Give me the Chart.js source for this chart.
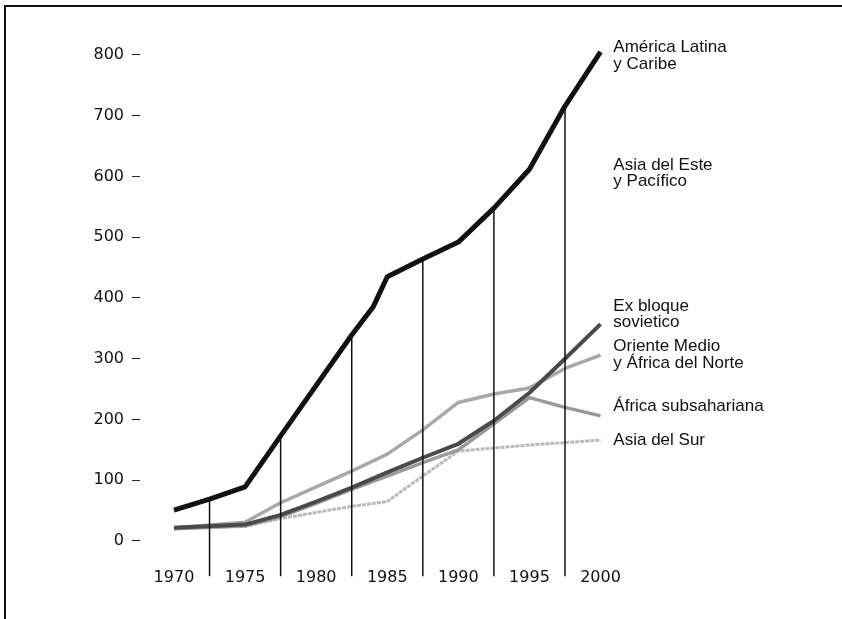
<!DOCTYPE html>
<html><head><meta charset="utf-8">
<script src="https://cdn.jsdelivr.net/npm/chart.js@4.4.1/dist/chart.umd.min.js"></script>
<style>
html,body{margin:0;padding:0;background:#fff;}
#wrap{position:relative;width:842px;height:619px;overflow:hidden;background:#fff;}
#frame{position:absolute;left:4px;top:5px;width:900px;height:700px;border-top:2px solid #111;border-left:2px solid #111;pointer-events:none;}
canvas{position:absolute;left:0;top:0;}
</style></head><body>
<div id="wrap"><canvas id="c" width="842" height="619"></canvas><div id="frame"></div></div>
<script>
// ---- data ----
const yearTicks = [1970, 1975, 1980, 1985, 1990, 1995, 2000];
const valueTicks = [0, 100, 200, 300, 400, 500, 600, 700, 800];

const alYears  = [1970, 1972.5, 1975, 1977.5, 1982.5, 1984, 1985, 1987.5, 1990, 1992.5, 1995, 1997.5, 2000];
const alValues = [51, 69, 89, 173, 339, 385, 435, 464, 492, 548, 612, 716, 805];

const years = [1970, 1975, 1977.5, 1980, 1982.5, 1985, 1987.5, 1990, 1992.5, 1995, 1997.5, 2000];
const exBloque   = [22, 27, 43, 65, 88, 113, 137, 160, 198, 244, 300, 357];
const orienteMed = [22, 31, 63, 89, 115, 143, 183, 228, 242, 252, 284, 306];
const africaSub  = [20, 25, 40, 62, 85, 107, 129, 150, 193, 236, 220, 206];
const asiaSur    = [20, 24, 37, 47, 57, 65, 107, 148, 153, 158, 162, 166];

const separatorYears = [1972.5, 1977.5, 1982.5, 1987.5, 1992.5, 1997.5];

const regionNames = [
  ['América Latina', 'y Caribe'],
  ['Asia del Este', 'y Pacífico'],
  ['Ex bloque', 'sovietico'],
  ['Oriente Medio', 'y África del Norte'],
  ['África subsahariana'],
  ['Asia del Sur']
];

// ---- layout / style settings ----
const labelAnchorX = 2000.9;
const labelAnchorsY = [812, 619, 387, 320, 222, 166];
const separatorBase = -58;

const pts = (xs, ys) => xs.map((x, i) => ({x: x, y: ys[i]}));

const datasets = [
  {label: 'América Latina y Caribe', data: pts(alYears, alValues), borderColor: '#111', borderWidth: 5, order: 0},
  {label: 'Ex bloque sovietico', data: pts(years, exBloque), borderColor: '#4a4a4a', borderWidth: 4, order: 2},
  {label: 'África subsahariana', data: pts(years, africaSub), borderColor: '#9a9a9a', borderWidth: 3.5, order: 3},
  {label: 'Oriente Medio y África del Norte', data: pts(years, orienteMed), borderColor: '#a8a8a8', borderWidth: 3.5, order: 4},
  {label: 'Asia del Sur', data: pts(years, asiaSur), borderColor: '#bababa', borderWidth: 3, borderDash: [4, 1], order: 5}
];
separatorYears.forEach(sy => {
  const top = alValues[alYears.indexOf(sy)];
  datasets.push({label: 'sep', data: [{x: sy, y: separatorBase}, {x: sy, y: top}],
    borderColor: '#111', borderWidth: 1.5, order: 1});
});
datasets.forEach(d => { d.pointRadius = 0; d.fill = false; d.tension = 0; d.borderJoinStyle = 'round'; d.clip = false; });

const labelPlugin = {
  id: 'regionLabels',
  afterDatasetsDraw(chart) {
    const ctx = chart.ctx, xs = chart.scales.x, ys = chart.scales.y;
    ctx.save();
    ctx.font = '17px "Liberation Sans", Arial, sans-serif';
    ctx.fillStyle = '#111';
    ctx.textAlign = 'left';
    ctx.textBaseline = 'middle';
    const x = xs.getPixelForValue(labelAnchorX);
    regionNames.forEach((lines, i) => {
      const y0 = ys.getPixelForValue(labelAnchorsY[i]);
      lines.forEach((t, j) => ctx.fillText(t, x, y0 + j * 16.5));
    });
    ctx.restore();
  }
};

new Chart(document.getElementById('c'), {
  type: 'line',
  data: {datasets: datasets},
  options: {
    responsive: false,
    devicePixelRatio: 1,
    animation: false,
    layout: {padding: {top: 20, bottom: 26, left: 0, right: 2}},
    plugins: {legend: {display: false}, tooltip: {enabled: false}},
    scales: {
      x: {
        type: 'linear', min: 1967.61, max: 2016.84,
        position: {y: -45},
        grid: {display: false, drawTicks: false},
        border: {display: false},
        afterBuildTicks: s => { s.ticks = yearTicks.map(v => ({value: v})); },
        ticks: {padding: 0, autoSkip: false, maxRotation: 0, color: '#111',
          font: {family: '"DejaVu Sans"', size: 16},
          callback: v => String(v)}
      },
      y: {
        type: 'linear', min: -85.6, max: 857.6,
        afterBuildTicks: s => { s.ticks = valueTicks.map(v => ({value: v})); },
        afterFit: s => { s.width = 140; },
        grid: {display: true, drawOnChartArea: false, drawTicks: true, tickLength: 8, color: '#222', lineWidth: 1},
        border: {display: false},
        ticks: {padding: 8, color: '#111', font: {family: '"DejaVu Sans"', size: 16}}
      }
    }
  },
  plugins: [labelPlugin]
});
</script>
</body></html>
